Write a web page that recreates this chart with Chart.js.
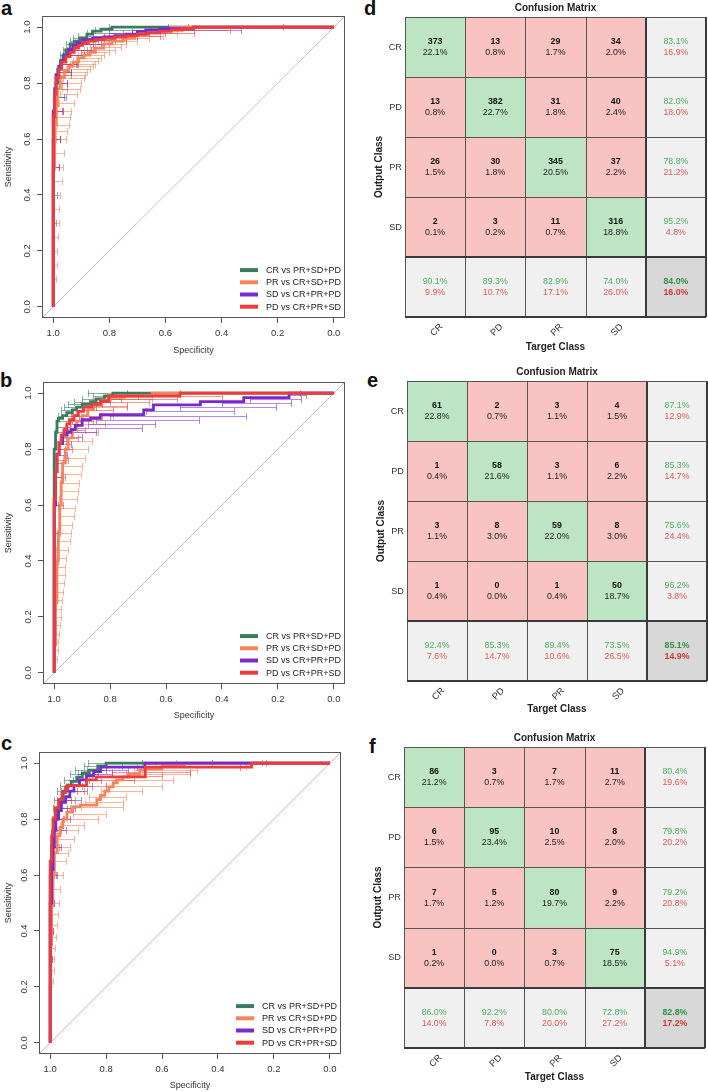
<!DOCTYPE html>
<html><head><meta charset="utf-8">
<script src="https://cdn.jsdelivr.net/npm/chart.js@4.4.1/dist/chart.umd.min.js"></script>
<style>
html,body{margin:0;padding:0;background:#fff;overflow:hidden;width:708px;height:1092px;position:relative;}
canvas{position:absolute;}
.lbl{position:absolute;font:bold 20px "Liberation Sans",Arial,sans-serif;line-height:20px;color:#111;}
</style></head><body>
<div class="lbl" style="left:1px;top:-2px">a</div>
<div class="lbl" style="left:0px;top:370px">b</div>
<div class="lbl" style="left:1px;top:733px">c</div>
<div class="lbl" style="left:364px;top:-2px">d</div>
<div class="lbl" style="left:367px;top:370px">e</div>
<div class="lbl" style="left:369px;top:736px">f</div>
<canvas id="ca" width="350" height="360" style="left:0px;top:0px"></canvas>
<canvas id="cb" width="350" height="360" style="left:0px;top:366px"></canvas>
<canvas id="cc" width="350" height="356" style="left:0px;top:736px"></canvas>
<canvas id="cd" width="353" height="360" style="left:355px;top:0px"></canvas>
<canvas id="ce" width="351" height="360" style="left:357px;top:364px"></canvas>
<canvas id="cf" width="354" height="362" style="left:354px;top:730px"></canvas>
<script>
// ---------------- DATA ----------------
const SERIES_LABELS = ['CR vs PR+SD+PD', 'PR vs CR+SD+PD', 'SD vs CR+PR+PD', 'PD vs CR+PR+SD'];
const SERIES_COLORS = ['#3A7D5E', '#F4845C', '#7B28CF', '#EE3B3B'];
const CI_COLORS = ['rgba(58,125,94,0.6)', 'rgba(244,132,92,0.6)', 'rgba(123,40,207,0.55)', 'rgba(238,59,59,0.55)'];
const ROC_TICKS = [0, 0.2, 0.4, 0.6, 0.8, 1.0];
const AXIS_MIN = -0.04, AXIS_MAX = 1.04;
const DIAG_LINE = [[1.04, -0.04], [-0.04, 1.04]];

// ROC curves: [specificity, sensitivity]
const rocA_CR = [[1,0],[1,0.45],[0.996,0.6],[0.99,0.72],[0.984,0.8],[0.975,0.85],[0.965,0.88],[0.955,0.9],[0.94,0.92],[0.925,0.94],[0.905,0.95],[0.88,0.96],[0.86,0.975],[0.83,0.986],[0.79,0.993],[0.74,1],[0,1]];
const rocA_PR = [[1,0],[1,0.3],[0.995,0.5],[0.99,0.65],[0.985,0.72],[0.975,0.78],[0.96,0.82],[0.945,0.845],[0.93,0.86],[0.91,0.875],[0.89,0.89],[0.87,0.9],[0.85,0.91],[0.82,0.925],[0.79,0.94],[0.75,0.95],[0.71,0.96],[0.67,0.97],[0.63,0.98],[0.58,0.99],[0.52,1],[0,1]];
const rocA_SD = [[1,0],[1,0.5],[0.995,0.7],[0.99,0.78],[0.98,0.83],[0.97,0.86],[0.96,0.88],[0.945,0.9],[0.93,0.92],[0.915,0.935],[0.895,0.945],[0.86,0.955],[0.82,0.96],[0.78,0.965],[0.74,0.97],[0.7,0.975],[0.67,0.985],[0.62,0.99],[0.5,0.995],[0.46,1],[0,1]];
const rocA_PD = [[1,0],[1,0.5],[0.995,0.68],[0.99,0.76],[0.98,0.82],[0.97,0.85],[0.955,0.875],[0.94,0.895],[0.925,0.91],[0.91,0.925],[0.895,0.935],[0.875,0.945],[0.85,0.95],[0.82,0.955],[0.78,0.96],[0.74,0.965],[0.7,0.97],[0.66,0.975],[0.62,0.98],[0.58,0.985],[0.54,0.99],[0.5,0.995],[0.47,1],[0,1]];

const rocB_CR = [[1,0],[1,0.6],[0.995,0.8],[0.99,0.86],[0.985,0.9],[0.97,0.91],[0.955,0.92],[0.935,0.93],[0.92,0.94],[0.9,0.95],[0.87,0.96],[0.85,0.97],[0.82,0.98],[0.79,0.99],[0.785,1],[0,1]];
const rocB_PR = [[1,0],[0.995,0.1],[0.99,0.25],[0.985,0.4],[0.98,0.5],[0.975,0.6],[0.97,0.68],[0.96,0.75],[0.95,0.8],[0.935,0.84],[0.92,0.87],[0.9,0.9],[0.88,0.92],[0.86,0.94],[0.83,0.96],[0.8,0.975],[0.75,0.985],[0.65,0.99],[0.55,1],[0,1]];
const rocB_SD = [[1,0],[1,0.35],[0.995,0.6],[0.99,0.72],[0.982,0.78],[0.97,0.82],[0.955,0.85],[0.94,0.86],[0.925,0.87],[0.9,0.885],[0.87,0.905],[0.835,0.91],[0.68,0.923],[0.645,0.94],[0.477,0.958],[0.322,0.97],[0.16,0.984],[0,1]];
const rocB_PD = [[1,0],[1,0.4],[0.995,0.62],[0.99,0.72],[0.983,0.78],[0.975,0.82],[0.965,0.85],[0.955,0.87],[0.945,0.89],[0.93,0.905],[0.915,0.92],[0.895,0.935],[0.865,0.95],[0.835,0.96],[0.805,0.972],[0.55,0.99],[0,1]];

const rocC_CR = [[1,0],[1,0.4],[0.995,0.6],[0.99,0.7],[0.985,0.76],[0.975,0.8],[0.965,0.84],[0.955,0.87],[0.94,0.9],[0.925,0.92],[0.905,0.935],[0.885,0.95],[0.86,0.965],[0.83,0.975],[0.8,0.99],[0.785,1],[0,1]];
const rocC_PR = [[1,0],[0.998,0.2],[0.995,0.35],[0.99,0.5],[0.985,0.6],[0.975,0.68],[0.965,0.74],[0.955,0.77],[0.94,0.8],[0.92,0.825],[0.893,0.844],[0.833,0.85],[0.82,0.87],[0.805,0.885],[0.79,0.9],[0.775,0.915],[0.76,0.93],[0.74,0.94],[0.72,0.95],[0.68,0.96],[0.661,0.975],[0.6,0.98],[0.52,0.99],[0.45,1],[0,1]];
const rocC_SD = [[1,0],[1,0.3],[0.995,0.5],[0.99,0.62],[0.985,0.7],[0.98,0.76],[0.97,0.8],[0.96,0.83],[0.945,0.86],[0.93,0.88],[0.915,0.9],[0.895,0.92],[0.87,0.94],[0.845,0.955],[0.82,0.97],[0.661,0.986],[0,1]];
const rocC_PD = [[1,0],[1,0.45],[0.995,0.65],[0.99,0.74],[0.982,0.8],[0.97,0.84],[0.958,0.87],[0.945,0.895],[0.935,0.915],[0.87,0.92],[0.835,0.94],[0.66,0.951],[0.28,0.986],[0,1]];

// CI bars of specificity: [sensitivity, spec low, spec high]
const ciA_CR = [[0.3,0.99,1],[0.4,0.985,1],[0.5,0.98,1],[0.6,0.975,1],[0.7,0.965,0.998],[0.75,0.955,0.995],[0.8,0.95,0.99],[0.84,0.935,0.985],[0.87,0.92,0.98],[0.9,0.9,0.975],[0.92,0.88,0.965],[0.94,0.86,0.955],[0.95,0.84,0.94],[0.96,0.82,0.93],[0.97,0.78,0.91],[0.98,0.72,0.88],[0.99,0.62,0.85],[1,0.59,0.8]];
const ciA_PR = [[0.1,0.99,1],[0.15,0.988,1],[0.2,0.985,1],[0.25,0.983,1],[0.3,0.98,1],[0.35,0.978,0.999],[0.4,0.975,0.998],[0.45,0.97,0.997],[0.5,0.965,0.995],[0.55,0.96,0.993],[0.6,0.955,0.99],[0.63,0.95,0.989],[0.65,0.945,0.988],[0.68,0.94,0.986],[0.7,0.935,0.985],[0.73,0.925,0.98],[0.76,0.915,0.975],[0.78,0.905,0.97],[0.8,0.9,0.968],[0.82,0.89,0.965],[0.83,0.885,0.962],[0.84,0.88,0.96],[0.85,0.87,0.955],[0.86,0.86,0.945],[0.87,0.85,0.94],[0.88,0.84,0.93],[0.89,0.83,0.92],[0.9,0.82,0.91],[0.91,0.8,0.9],[0.92,0.78,0.89],[0.93,0.76,0.87],[0.94,0.74,0.85],[0.95,0.7,0.82],[0.96,0.66,0.79],[0.97,0.61,0.76],[0.98,0.56,0.72],[0.99,0.5,0.66]];
const ciA_SD = [[0.5,0.98,1],[0.6,0.975,1],[0.7,0.97,0.998],[0.75,0.96,0.995],[0.8,0.95,0.99],[0.84,0.935,0.985],[0.87,0.915,0.975],[0.9,0.89,0.965],[0.92,0.865,0.95],[0.94,0.83,0.93],[0.955,0.78,0.9],[0.97,0.7,0.86],[0.98,0.6,0.8],[0.99,0.33,0.72]];
const ciA_PD = [[0.5,0.98,1],[0.6,0.975,1],[0.7,0.965,0.995],[0.78,0.95,0.99],[0.83,0.935,0.98],[0.87,0.91,0.97],[0.9,0.89,0.955],[0.92,0.86,0.94],[0.94,0.8,0.92],[0.955,0.74,0.88],[0.97,0.62,0.82],[0.98,0.5,0.75],[0.99,0.37,0.65],[1,0.18,0.52]];

const ciB_CR = [[0.6,0.985,1],[0.7,0.975,1],[0.75,0.97,1],[0.8,0.96,1],[0.83,0.955,1],[0.86,0.95,0.998],[0.88,0.945,0.995],[0.9,0.935,0.99],[0.92,0.91,0.985],[0.94,0.88,0.975],[0.95,0.85,0.965],[0.96,0.83,0.95],[0.97,0.8,0.93],[0.98,0.76,0.9],[0.99,0.7,0.86],[1,0.74,0.88]];
const ciB_PR = [[0.05,0.99,1],[0.08,0.988,1],[0.11,0.985,1],[0.14,0.983,0.999],[0.17,0.98,0.998],[0.2,0.977,0.998],[0.23,0.975,0.997],[0.26,0.972,0.997],[0.29,0.97,0.996],[0.32,0.966,0.995],[0.35,0.963,0.995],[0.38,0.96,0.994],[0.41,0.957,0.993],[0.44,0.952,0.992],[0.47,0.945,0.99],[0.5,0.94,0.99],[0.53,0.935,0.988],[0.56,0.93,0.986],[0.59,0.925,0.985],[0.62,0.92,0.983],[0.65,0.915,0.98],[0.68,0.91,0.978],[0.71,0.905,0.975],[0.74,0.9,0.972],[0.77,0.89,0.968],[0.8,0.88,0.963],[0.83,0.865,0.957],[0.86,0.845,0.95],[0.89,0.82,0.94],[0.92,0.79,0.925],[0.95,0.74,0.9],[0.98,0.65,0.86],[0.995,0.55,0.78]];
const ciB_SD = [[0.5,0.985,1],[0.6,0.98,1],[0.7,0.97,0.997],[0.78,0.955,0.993],[0.82,0.94,0.985],[0.845,0.9,0.975],[0.86,0.85,0.955],[0.875,0.686,0.92],[0.89,0.638,0.88],[0.905,0.483,0.85],[0.92,0.315,0.8],[0.935,0.358,0.67],[0.95,0.208,0.55],[0.965,0.154,0.4],[0.98,0.118,0.3],[0.995,0.1,0.165]];
const ciB_PD = [[0.3,0.99,1],[0.4,0.985,1],[0.5,0.98,1],[0.6,0.97,0.998],[0.7,0.96,0.995],[0.76,0.95,0.99],[0.8,0.935,0.985],[0.84,0.915,0.975],[0.87,0.89,0.965],[0.9,0.86,0.95],[0.92,0.83,0.94],[0.94,0.79,0.92],[0.955,0.74,0.9],[0.97,0.66,0.86],[0.98,0.56,0.82],[0.99,0.4,0.77],[1,0.12,0.55]];

const ciC_CR = [[0.5,0.99,1],[0.6,0.985,1],[0.7,0.975,1],[0.75,0.965,0.998],[0.8,0.955,0.995],[0.84,0.94,0.99],[0.87,0.925,0.985],[0.9,0.905,0.975],[0.92,0.885,0.965],[0.94,0.86,0.95],[0.96,0.83,0.93],[0.975,0.8,0.91],[0.99,0.744,0.88],[1,0.67,0.863]];
const ciC_PR = [[0.22,0.99,1],[0.26,0.988,1],[0.3,0.985,1],[0.34,0.983,0.999],[0.38,0.98,0.998],[0.42,0.977,0.997],[0.46,0.973,0.997],[0.5,0.97,0.996],[0.55,0.965,0.995],[0.6,0.955,0.993],[0.65,0.945,0.99],[0.68,0.938,0.988],[0.7,0.93,0.985],[0.73,0.915,0.98],[0.76,0.9,0.975],[0.78,0.88,0.965],[0.8,0.83,0.94],[0.82,0.8,0.92],[0.844,0.74,0.89],[0.86,0.74,0.875],[0.88,0.73,0.86],[0.9,0.67,0.82],[0.92,0.6,0.8],[0.94,0.56,0.77],[0.96,0.5,0.73],[0.975,0.476,0.7],[0.986,0.3,0.62],[1,0.244,0.55]];
const ciC_SD = [[0.3,0.995,1],[0.4,0.99,1],[0.5,0.985,1],[0.6,0.975,0.998],[0.7,0.96,0.995],[0.76,0.945,0.99],[0.8,0.93,0.985],[0.84,0.91,0.975],[0.87,0.89,0.965],[0.9,0.87,0.95],[0.92,0.85,0.935],[0.94,0.82,0.92],[0.96,0.78,0.9],[0.975,0.72,0.87],[0.99,0.6,0.8]];
const ciC_PD = [[0.3,0.995,1],[0.4,0.99,1],[0.5,0.985,1],[0.6,0.978,1],[0.7,0.97,0.998],[0.76,0.96,0.995],[0.8,0.95,0.99],[0.84,0.93,0.985],[0.87,0.91,0.975],[0.9,0.88,0.96],[0.92,0.8,0.945],[0.94,0.7,0.9],[0.955,0.6,0.85],[0.97,0.5,0.78],[0.985,0.32,0.69],[1,0.23,0.42]];

// Confusion matrices (rows = output class, cols = target class)
const CM_CLASSES = ['CR', 'PD', 'PR', 'SD'];
const CM_CELL = [1, 1, 1, 1, 1];
const cmD_counts = [[373,13,29,34],[13,382,31,40],[26,30,345,37],[2,3,11,316]];
const cmD_pct = [[22.1,0.8,1.7,2.0],[0.8,22.7,1.8,2.4],[1.5,1.8,20.5,2.2],[0.1,0.2,0.7,18.8]];
const cmD_rowAcc = [83.1, 82.0, 78.8, 95.2];
const cmD_colAcc = [90.1, 89.3, 82.9, 74.0];
const cmD_total = 84.0;

const cmE_counts = [[61,2,3,4],[1,58,3,6],[3,8,59,8],[1,0,1,50]];
const cmE_pct = [[22.8,0.7,1.1,1.5],[0.4,21.6,1.1,2.2],[1.1,3.0,22.0,3.0],[0.4,0.0,0.4,18.7]];
const cmE_rowAcc = [87.1, 85.3, 75.6, 96.2];
const cmE_colAcc = [92.4, 85.3, 89.4, 73.5];
const cmE_total = 85.1;

const cmF_counts = [[86,3,7,11],[6,95,10,8],[7,5,80,9],[1,0,3,75]];
const cmF_pct = [[21.2,0.7,1.7,2.7],[1.5,23.4,2.5,2.0],[1.7,1.2,19.7,2.2],[0.2,0.0,0.7,18.5]];
const cmF_rowAcc = [80.4, 79.8, 79.2, 94.9];
const cmF_colAcc = [86.0, 92.2, 80.0, 72.8];
const cmF_total = 82.8;

// ---------------- RENDER ----------------
const F = '"Liberation Sans", Arial, Helvetica, sans-serif';
Chart.defaults.font.family = F;
Chart.defaults.color = '#333';

function makeROC(id, curves, cis, diagColor, g) {
  const datasets = curves.map((pts, i) => ({
    label: SERIES_LABELS[i],
    data: pts.map(p => ({x: p[0], y: p[1]})),
    borderColor: SERIES_COLORS[i], backgroundColor: SERIES_COLORS[i],
    borderWidth: 2.8, pointRadius: 0, showLine: true, stepped: 'after', order: 3 - i
  }));
  datasets.push({label: '', data: DIAG_LINE.map(p => ({x: p[0], y: p[1]})), borderColor: diagColor,
    borderWidth: 1, pointRadius: 0, showLine: true, order: 10});
  const diagIndex = datasets.length - 1;
  const plugin = {
    id: 'rocdeco' + id,
    afterDatasetDraw(chart, args) {
      if (args.index !== diagIndex) return;
      const {ctx, chartArea: a} = chart; const xs = chart.scales.x, ys = chart.scales.y;
      ctx.save();
      ctx.beginPath(); ctx.rect(a.left, a.top, a.right - a.left, a.bottom - a.top); ctx.clip();
      ctx.lineWidth = 1;
      cis.forEach((list, i) => {
        ctx.strokeStyle = CI_COLORS[i];
        list.forEach(([s, lo, hi]) => {
          const py = Math.round(ys.getPixelForValue(s)) + 0.5;
          const x1 = Math.round(xs.getPixelForValue(lo)) + 0.5, x2 = Math.round(xs.getPixelForValue(hi)) + 0.5;
          ctx.beginPath();
          ctx.moveTo(x1, py); ctx.lineTo(x2, py);
          ctx.moveTo(x1, py - 3.5); ctx.lineTo(x1, py + 3.5);
          ctx.moveTo(x2, py - 3.5); ctx.lineTo(x2, py + 3.5);
          ctx.stroke();
        });
      });
      ctx.restore();
    },
    afterDraw(chart) {
      const {ctx, chartArea: a} = chart;
      ctx.save();
      ctx.strokeStyle = '#555'; ctx.lineWidth = 1;
      ctx.strokeRect(Math.round(a.left) + 0.5, Math.round(a.top) + 0.5, Math.round(a.right - a.left) - 1, Math.round(a.bottom - a.top) - 1);
      ctx.font = '9px ' + F; ctx.textBaseline = 'middle'; ctx.textAlign = 'left';
      for (let i = 0; i < 4; i++) {
        const y = a.bottom - 11.3 - 12.2 * (3 - i);
        ctx.strokeStyle = SERIES_COLORS[i]; ctx.lineWidth = 4;
        ctx.beginPath(); ctx.moveTo(a.right - 105, y); ctx.lineTo(a.right - 87, y); ctx.stroke();
        ctx.fillStyle = '#222';
        ctx.fillText(SERIES_LABELS[i], a.right - 79, y + 0.5);
      }
      ctx.restore();
    }
  };
  const gridOpt = {drawOnChartArea: false, drawTicks: true, tickLength: 5, color: '#555', lineWidth: 1};
  return new Chart(document.getElementById(id), {
    type: 'scatter',
    data: {datasets},
    options: {
      responsive: false, animation: false, devicePixelRatio: 1, events: [],
      layout: {padding: {left: 0, top: g.boxTop, right: g.W - g.boxRight, bottom: 0}},
      plugins: {legend: {display: false}, tooltip: {enabled: false}, title: {display: false}},
      scales: {
        x: {type: 'linear', reverse: true, min: AXIS_MIN, max: AXIS_MAX,
          afterBuildTicks: s => { s.ticks = ROC_TICKS.map(v => ({value: v})); },
          ticks: {callback: v => v.toFixed(1), color: '#333', font: {size: 9.5}, padding: 5, minRotation: 0, maxRotation: 0, autoSkip: false},
          grid: gridOpt, border: {display: false},
          title: {display: true, text: 'Specificity', color: '#333', font: {size: 9}, padding: {top: 0, bottom: g.xTitlePad}},
          afterFit: s => { s.height = g.H - g.boxBottom; }
        },
        y: {type: 'linear', min: AXIS_MIN, max: AXIS_MAX,
          afterBuildTicks: s => { s.ticks = ROC_TICKS.map(v => ({value: v})); },
          ticks: {callback: v => v.toFixed(1), color: '#333', font: {size: 9.5}, minRotation: 90, maxRotation: 90, crossAlign: 'center', padding: 3, autoSkip: false},
          grid: gridOpt, border: {display: false},
          title: {display: true, text: 'Sensitivity', color: '#333', font: {size: 9}, padding: {top: 3.5, bottom: 0}},
          afterFit: s => { s.width = g.boxLeft; }
        }
      }
    },
    plugins: [plugin]
  });
}

const GREEN_CELL = '#BDE5C4', RED_CELL = '#F8C3C0', GRAY_CELL = '#F0F0F0', DARK_CELL = '#D8D8D8';
function cellColor(r, c) {
  if (r === 4 && c === 4) return DARK_CELL;
  if (r === 4 || c === 4) return GRAY_CELL;
  return r === c ? GREEN_CELL : RED_CELL;
}

function makeCM(id, counts, pct, rowAcc, colAcc, total, g) {
  const cols = [...CM_CLASSES, ''];
  const datasets = [];
  for (let r = 4; r >= 0; r--) {
    datasets.push({data: CM_CELL.slice(), backgroundColor: cols.map((_, c) => cellColor(r, c)),
      borderWidth: 0, barPercentage: 1, categoryPercentage: 1});
  }
  const FS = 8.8;
  const plugin = {
    id: 'cmdeco' + id,
    afterDraw(chart) {
      const {ctx} = chart; const xs = chart.scales.x, ys = chart.scales.y;
      const cw = xs.getPixelForValue(1) - xs.getPixelForValue(0);
      const xb = k => xs.getPixelForValue(0) - cw / 2 + k * cw;
      const yTop = ys.getPixelForValue(5), yBot = ys.getPixelForValue(0);
      const xL = xb(0), xR = xb(5);
      ctx.save();
      for (let k = 0; k <= 5; k++) {
        const thick = (k === 4 || k === 5);
        ctx.lineWidth = thick ? 2 : 1; ctx.strokeStyle = thick ? '#3a3a3a' : '#555';
        const px = thick ? Math.round(xb(k)) : Math.round(xb(k)) + 0.5;
        ctx.beginPath(); ctx.moveTo(px, yTop); ctx.lineTo(px, yBot); ctx.stroke();
      }
      for (let k = 0; k <= 5; k++) {
        const thick = (k === 0 || k === 1);
        ctx.lineWidth = thick ? 2 : 1; ctx.strokeStyle = thick ? '#3a3a3a' : '#555';
        const yv = ys.getPixelForValue(k);
        const py = thick ? Math.round(yv) : Math.round(yv) + 0.5;
        ctx.beginPath(); ctx.moveTo(xL, py); ctx.lineTo(xR, py); ctx.stroke();
      }
      ctx.textAlign = 'center'; ctx.textBaseline = 'middle';
      for (let r = 0; r < 5; r++) {
        const cy = (ys.getPixelForValue(5 - r) + ys.getPixelForValue(4 - r)) / 2;
        for (let c = 0; c < 5; c++) {
          const cx = xs.getPixelForValue(c);
          if (r < 4 && c < 4) {
            ctx.font = 'bold ' + FS + 'px ' + F; ctx.fillStyle = '#111';
            ctx.fillText(String(counts[r][c]), cx, cy - 5.3);
            ctx.font = FS + 'px ' + F; ctx.fillStyle = '#222';
            ctx.fillText(pct[r][c].toFixed(1) + '%', cx, cy + 5.7);
          } else {
            const corner = (r === 4 && c === 4);
            const acc = corner ? total : (c === 4 ? rowAcc[r] : colAcc[c]);
            ctx.font = (corner ? 'bold ' : '') + FS + 'px ' + F;
            ctx.fillStyle = corner ? '#2E9444' : '#4CAF5E';
            ctx.fillText(acc.toFixed(1) + '%', cx, cy - 5.3);
            ctx.fillStyle = corner ? '#CC3A35' : '#DE5A55';
            ctx.fillText((100 - acc).toFixed(1) + '%', cx, cy + 5.7);
          }
        }
      }
      ctx.font = '9.2px ' + F; ctx.fillStyle = '#333';
      for (let c = 0; c < 4; c++) {
        ctx.save();
        ctx.translate(xs.getPixelForValue(c) + 1.5, yBot + 13);
        ctx.rotate(-Math.PI / 4);
        ctx.fillText(CM_CLASSES[c], 0, 0);
        ctx.restore();
      }
      ctx.restore();
    }
  };
  return new Chart(document.getElementById(id), {
    type: 'bar',
    data: {labels: cols, datasets},
    options: {
      responsive: false, animation: false, devicePixelRatio: 1, events: [],
      layout: {padding: {left: 0, top: 0, right: g.W - g.gridRight, bottom: 0}},
      plugins: {legend: {display: false}, tooltip: {enabled: false}, title: {display: false}},
      scales: {
        x: {type: 'category', labels: cols, stacked: true, offset: true,
          grid: {display: false, drawTicks: false}, border: {display: false}, ticks: {display: false},
          title: {display: true, text: 'Target Class', color: '#222', font: {size: 10, weight: 'bold'}, padding: {top: 0, bottom: g.xTitlePad}},
          afterFit: s => { s.height = g.H - g.gridBottom; }
        },
        y: {type: 'linear', stacked: true, min: 0, max: 5, display: false},
        yl: {type: 'category', position: 'left', labels: cols, offset: true,
          grid: {display: false, drawTicks: false}, border: {display: false},
          ticks: {color: '#333', font: {size: 9.2}, padding: 3},
          title: {display: true, text: 'Output Class', color: '#222', font: {size: 10, weight: 'bold'}, padding: {top: 18, bottom: 0}},
          afterFit: s => { s.width = g.gridLeft; }
        },
        xt: {type: 'linear', position: 'top', min: 0, max: 1,
          grid: {display: false, drawTicks: false}, border: {display: false}, ticks: {display: false},
          title: {display: true, text: 'Confusion Matrix', color: '#222', font: {size: 10, weight: 'bold'}, padding: {top: 2, bottom: 0}},
          afterFit: s => { s.height = g.gridTop; }
        }
      }
    },
    plugins: [plugin]
  });
}

makeROC('ca', [rocA_CR, rocA_PR, rocA_SD, rocA_PD], [ciA_CR, ciA_PR, ciA_SD, ciA_PD], '#E8B4B4',
  {W: 350, H: 360, boxLeft: 42, boxRight: 345, boxTop: 16, boxBottom: 318, xTitlePad: 3.6});
makeROC('cb', [rocB_CR, rocB_PR, rocB_SD, rocB_PD], [ciB_CR, ciB_PR, ciB_SD, ciB_PD], '#BDB8E4',
  {W: 350, H: 360, boxLeft: 43, boxRight: 345, boxTop: 16, boxBottom: 318, xTitlePad: 4.6});
makeROC('cc', [rocC_CR, rocC_PR, rocC_SD, rocC_PD], [ciC_CR, ciC_PR, ciC_SD, ciC_PD], '#F0AAAA',
  {W: 350, H: 356, boxLeft: 39, boxRight: 341, boxTop: 16, boxBottom: 318, xTitlePad: 0.6});

makeCM('cd', cmD_counts, cmD_pct, cmD_rowAcc, cmD_colAcc, cmD_total,
  {W: 353, H: 360, gridLeft: 50, gridRight: 351, gridTop: 17, gridBottom: 317, xTitlePad: 7});
makeCM('ce', cmE_counts, cmE_pct, cmE_rowAcc, cmE_colAcc, cmE_total,
  {W: 351, H: 360, gridLeft: 50, gridRight: 350, gridTop: 17, gridBottom: 317, xTitlePad: 9});
makeCM('cf', cmF_counts, cmF_pct, cmF_rowAcc, cmF_colAcc, cmF_total,
  {W: 354, H: 362, gridLeft: 50, gridRight: 351, gridTop: 17, gridBottom: 318, xTitlePad: 9});
</script>
</body></html>
